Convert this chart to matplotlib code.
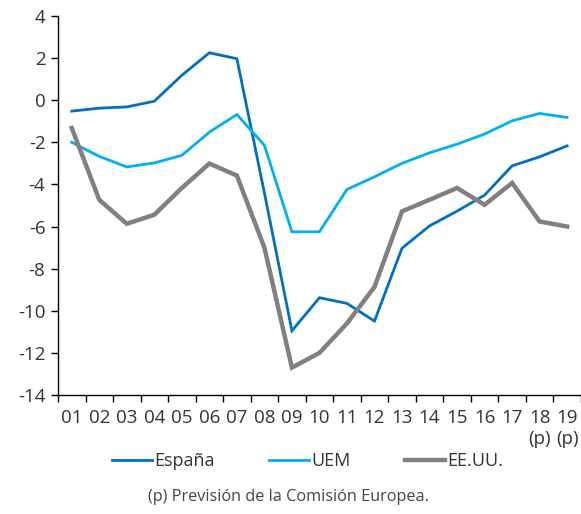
import matplotlib
matplotlib.use("Agg")
import matplotlib.pyplot as plt
import numpy as np

plt.rcParams['font.family'] = ['Open Sans', 'DejaVu Sans']

years = ["01", "02", "03", "04", "05", "06", "07", "08", "09", "10",
         "11", "12", "13", "14", "15", "16", "17", "18\n(p)", "19\n(p)"]
espana = [-0.52, -0.38, -0.32, -0.05, 1.18, 2.25, 1.97, -4.4, -10.95, -9.38,
          -9.65, -10.49, -7.03, -5.97, -5.27, -4.51, -3.12, -2.69, -2.17]
uem = [-2.0, -2.67, -3.17, -2.98, -2.62, -1.52, -0.68, -2.14, -6.25, -6.25,
       -4.24, -3.64, -3.0, -2.5, -2.09, -1.61, -0.98, -0.63, -0.82]
eeuu = [-1.32, -4.73, -5.87, -5.44, -4.17, -3.01, -3.58, -7.0, -12.7, -12.0,
        -10.6, -8.87, -5.28, -4.73, -4.17, -4.97, -3.93, -5.76, -6.0]
series_names = ["España", "UEM", "EE.UU."]
footnote = "(p) Previsión de la Comisión Europea."

fig = plt.figure(figsize=(5.81, 5.14), dpi=100)
ax = fig.add_axes([0.0998, 0.2315, 0.9, 0.7375])

x = np.arange(len(years))
ax.plot(x, espana, color="#0070C0", lw=2.0, label=series_names[0], solid_joinstyle='miter')
ax.plot(x, uem, color="#00B0F0", lw=2.0, label=series_names[1], solid_joinstyle='miter')
ax.plot(x, eeuu, color="#808080", lw=3.2, label=series_names[2], solid_joinstyle='miter')

ax.set_xlim(-0.5, len(years) - 0.5)
ax.set_ylim(-14, 4)
ax.set_yticks(np.arange(-14, 5, 2))
ax.set_yticklabels([str(v) for v in range(-14, 5, 2)])
ax.set_xticks(np.arange(-0.5, len(years), 1))
ax.set_xticklabels([])
ax.set_xticks(x, minor=True)
ax.set_xticklabels(years, minor=True, va='top', linespacing=1.25)
ax.tick_params(axis='x', which='minor', length=0, pad=10)
ax.tick_params(axis='x', which='major', length=5, width=1, direction='out', color='black')
ax.tick_params(axis='y', length=5, width=1, direction='out', color='black', pad=4)
ax.tick_params(which='both', labelsize=13.5, labelcolor='#333333')
for s in ['top', 'right']:
    ax.spines[s].set_visible(False)
for s in ['left', 'bottom']:
    ax.spines[s].set_color('black')
    ax.spines[s].set_linewidth(1.0)

leg = fig.legend(loc='center', bbox_to_anchor=(0.53, 0.103), ncol=3, frameon=False,
                 fontsize=13, handlelength=2.2, handletextpad=0.15, columnspacing=3.0)
for t in leg.get_texts():
    t.set_color('#333333')

fig.text(0.497, 0.033, footnote, ha='center', va='center', fontsize=11.7, color='#444444')

fig.savefig("out.png", dpi=100)
